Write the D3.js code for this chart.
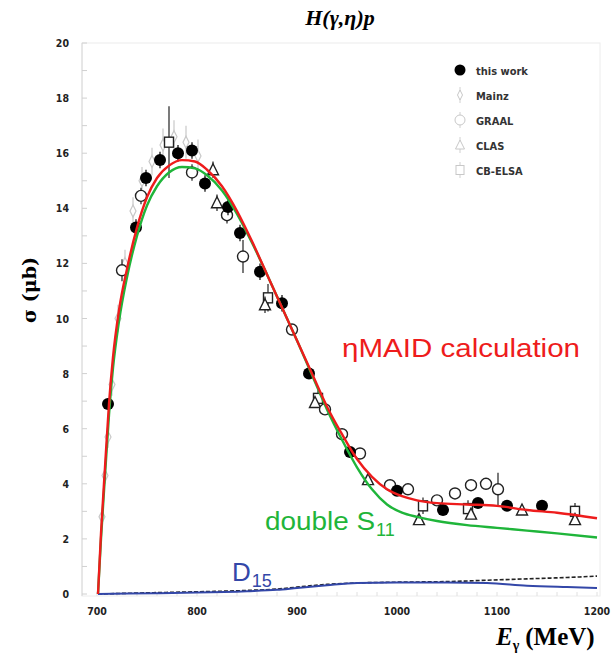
<!DOCTYPE html>
<html>
<head>
<meta charset="utf-8">
<script src="https://cdn.jsdelivr.net/npm/d3@7"></script>
<style>
  body { margin: 0; background: #fff; }
  svg { display: block; }
</style>
</head>
<body>
<svg id="chart" width="613" height="667"></svg>
<script>
// ---- data ----
var yTicks = [0, 2, 4, 6, 8, 10, 12, 14, 16, 18, 20];
var xTicks = [700, 800, 900, 1000, 1100, 1200];

// this work (filled circles)
var workE   = [711, 739, 749, 763, 781, 795, 808, 831, 843, 863, 885, 912, 953, 1000, 1046, 1081, 1110, 1145];
var workSig = [6.9, 13.3, 15.1, 15.75, 16.0, 16.1, 14.9, 14.05, 13.1, 11.7, 10.55, 8.0, 5.15, 3.75, 3.05, 3.3, 3.2, 3.2];
var workErr = [0.2, 0.3, 0.3, 0.3, 0.3, 0.3, 0.3, 0.3, 0.3, 0.3, 0.3, 0.2, 0.2, 0.15, 0.15, 0.15, 0.15, 0.15];

// Mainz (light diamonds)
var mainzE   = [705, 708, 711, 715, 721, 728, 736, 745, 755, 766, 777, 789, 801];
var mainzSig = [2.8, 4.3, 5.7, 7.6, 10.0, 12.0, 13.9, 15.0, 15.7, 16.3, 16.6, 16.4, 15.9];
var mainzErr = [0.3, 0.3, 0.4, 0.4, 0.5, 0.5, 0.5, 0.5, 0.5, 0.6, 0.6, 0.6, 0.6];

// GRAAL (open circles)
var graalE   = [725, 744, 795, 830, 846, 895, 928, 945, 963, 993, 1011, 1040, 1058, 1074, 1089, 1101];
var graalSig = [11.75, 14.45, 15.3, 13.75, 12.25, 9.6, 6.7, 5.8, 5.1, 3.95, 3.8, 3.4, 3.65, 3.95, 4.0, 3.8];
var graalErr = [0.4, 0.3, 0.3, 0.3, 0.6, 0.2, 0.2, 0.2, 0.2, 0.15, 0.15, 0.15, 0.15, 0.2, 0.2, 0.6];

// CLAS (open triangles)
var clasE   = [816, 820, 868, 918, 971, 1022, 1074, 1125, 1178];
var clasSig = [15.4, 14.2, 10.5, 6.95, 4.15, 2.7, 2.9, 3.05, 2.7];
var clasErr = [0.3, 0.3, 0.3, 0.2, 0.15, 0.15, 0.15, 0.15, 0.15];

// CB-ELSA (open squares)
var elsaE   = [772, 871, 921, 1026, 1071, 1178];
var elsaSig = [16.4, 10.75, 7.1, 3.2, 3.1, 3.0];
var elsaErr = [1.3, 0.5, 0.3, 0.3, 0.3, 0.3];

// model curves
var maidE   = [701, 704, 708, 712, 716, 722, 730, 740, 750, 760, 772, 785, 798, 810, 825, 840, 855, 870, 885, 900, 915, 930, 945, 960, 975, 990, 1005, 1020, 1040, 1070, 1100, 1130, 1160, 1200];
var maidSig = [0, 2.2, 4.6, 6.9, 8.6, 10.3, 11.8, 13.3, 14.4, 15.1, 15.55, 15.75, 15.7, 15.4, 14.8, 13.9, 12.8, 11.6, 10.4, 9.2, 8.0, 6.8, 5.8, 4.9, 4.25, 3.8, 3.55, 3.4, 3.3, 3.25, 3.2, 3.05, 2.95, 2.75];

var s11E   = maidE;
var s11Sig = [0, 2.0, 4.3, 6.5, 8.2, 9.9, 11.5, 13.0, 14.1, 14.8, 15.3, 15.5, 15.45, 15.2, 14.65, 13.8, 12.75, 11.6, 10.4, 9.2, 7.95, 6.7, 5.6, 4.6, 3.8, 3.25, 2.95, 2.8, 2.65, 2.5, 2.4, 2.3, 2.2, 2.05];

var d15E   = [701, 760, 800, 850, 880, 900, 930, 960, 1000, 1050, 1090, 1130, 1170, 1200];
var d15Sig = [0, 0.03, 0.05, 0.1, 0.15, 0.22, 0.32, 0.4, 0.42, 0.42, 0.4, 0.3, 0.25, 0.22];
var dashSig = [0, 0.05, 0.08, 0.13, 0.18, 0.25, 0.35, 0.4, 0.43, 0.45, 0.5, 0.55, 0.6, 0.65];

var legendNames = ["this work", "Mainz", "GRAAL", "CLAS", "CB-ELSA"];

// ---- setup ----
var svg = d3.select("#chart");
var x = d3.scaleLinear().domain([700, 1200]).range([97, 597]);
var y = d3.scaleLinear().domain([0, 20]).range([594, 43]);

function zip(es, ss, errs) {
  return es.map(function(e, i) { return {e: e, s: ss[i], err: errs ? errs[i] : 0}; });
}

// frame
svg.append("rect")
  .attr("x", 82).attr("y", 43).attr("width", 518).attr("height", 553)
  .attr("fill", "none").attr("stroke", "#ececec").attr("stroke-width", 1);
svg.append("line")
  .attr("x1", 82).attr("x2", 82).attr("y1", 43).attr("y2", 596)
  .attr("stroke", "#d8d8d8");

// minor ticks
svg.append("g").selectAll("line").data(d3.range(0, 21, 1)).join("line")
  .attr("x1", 82).attr("x2", 87)
  .attr("y1", function(d) { return y(d); }).attr("y2", function(d) { return y(d); })
  .attr("stroke", "#d0d0d0");
svg.append("g").selectAll("line").data(d3.range(700, 1201, 20)).join("line")
  .attr("x1", function(d) { return x(d); }).attr("x2", function(d) { return x(d); })
  .attr("y1", 596).attr("y2", 592)
  .attr("stroke", "#e0e0e0");

// tick labels
svg.append("g").selectAll("text").data(yTicks).join("text")
  .attr("x", 69).attr("y", function(d) { return y(d) + 4; })
  .attr("text-anchor", "end")
  .attr("font-family", "DejaVu Sans Condensed, DejaVu Sans")
  .attr("font-weight", "bold").attr("font-size", 10.5).attr("fill", "#222")
  .text(function(d) { return d; });
svg.append("g").selectAll("text").data(xTicks).join("text")
  .attr("x", function(d) { return x(d); }).attr("y", 615)
  .attr("text-anchor", "middle")
  .attr("font-family", "DejaVu Sans Condensed, DejaVu Sans")
  .attr("font-weight", "bold").attr("font-size", 10.5).attr("fill", "#222")
  .text(function(d) { return d; });

// titles
svg.append("text")
  .attr("x", 340).attr("y", 25).attr("text-anchor", "middle")
  .attr("font-family", "Liberation Serif").attr("font-weight", "bold")
  .attr("font-style", "italic").attr("font-size", 22)
  .text("H(γ,η)p");

svg.append("text")
  .attr("transform", "translate(36,290) rotate(-90)")
  .attr("text-anchor", "middle")
  .attr("font-family", "DejaVu Serif").attr("font-weight", "bold")
  .attr("font-size", 19)
  .text("σ (μb)");

var xt = svg.append("text").attr("x", 496).attr("y", 645)
  .attr("font-family", "Liberation Serif").attr("font-weight", "bold").attr("font-size", 25);
xt.append("tspan").attr("font-style", "italic").text("E");
xt.append("tspan").attr("font-size", 14).attr("dy", 5).text("γ");
xt.append("tspan").attr("dy", -5).attr("dx", 6).text("(MeV)");

// curves
var line = d3.line()
  .x(function(d) { return x(d.e); })
  .y(function(d) { return y(d.s); })
  .curve(d3.curveMonotoneX);

svg.append("path").datum(zip(d15E, dashSig))
  .attr("d", line).attr("fill", "none")
  .attr("stroke", "#222").attr("stroke-width", 1.6).attr("stroke-dasharray", "4,2");
svg.append("path").datum(zip(d15E, d15Sig))
  .attr("d", line).attr("fill", "none")
  .attr("stroke", "#3347a8").attr("stroke-width", 2);

// data points
var pts = svg.append("g");

function errBars(data, color) {
  pts.append("g").selectAll("line").data(data).join("line")
    .attr("x1", function(d) { return x(d.e); }).attr("x2", function(d) { return x(d.e); })
    .attr("y1", function(d) { return y(d.s - d.err); })
    .attr("y2", function(d) { return y(d.s + d.err); })
    .attr("stroke", color).attr("stroke-width", 1.2);
}

var mainz = zip(mainzE, mainzSig, mainzErr);
errBars(mainz, "#c8c8c8");
pts.append("g").selectAll("path").data(mainz).join("path")
  .attr("transform", function(d) { return "translate(" + x(d.e) + "," + y(d.s) + ")"; })
  .attr("d", "M0,-6L3,0L0,6L-3,0Z")
  .attr("fill", "#fff").attr("stroke", "#c8c8c8").attr("stroke-width", 1.2);

var elsa = zip(elsaE, elsaSig, elsaErr);
errBars(elsa, "#222");
pts.append("g").selectAll("rect").data(elsa).join("rect")
  .attr("x", function(d) { return x(d.e) - 4.5; }).attr("y", function(d) { return y(d.s) - 5; })
  .attr("width", 9).attr("height", 10)
  .attr("fill", "#fff").attr("stroke", "#222").attr("stroke-width", 1.4);

var clas = zip(clasE, clasSig, clasErr);
errBars(clas, "#222");
pts.append("g").selectAll("path").data(clas).join("path")
  .attr("transform", function(d) { return "translate(" + x(d.e) + "," + y(d.s) + ")"; })
  .attr("d", "M0,-6L5.5,5L-5.5,5Z")
  .attr("fill", "#fff").attr("stroke", "#222").attr("stroke-width", 1.4);

var graal = zip(graalE, graalSig, graalErr);
errBars(graal, "#222");
pts.append("g").selectAll("circle").data(graal).join("circle")
  .attr("cx", function(d) { return x(d.e); }).attr("cy", function(d) { return y(d.s); })
  .attr("r", 5.5)
  .attr("fill", "#fff").attr("stroke", "#222").attr("stroke-width", 1.4);

var work = zip(workE, workSig, workErr);
errBars(work, "#000");
pts.append("g").selectAll("circle").data(work).join("circle")
  .attr("cx", function(d) { return x(d.e); }).attr("cy", function(d) { return y(d.s); })
  .attr("r", 6)
  .attr("fill", "#000");

// model curves on top
svg.append("path").datum(zip(s11E, s11Sig))
  .attr("d", line).attr("fill", "none")
  .attr("stroke", "#1fb53a").attr("stroke-width", 2.4);
svg.append("path").datum(zip(maidE, maidSig))
  .attr("d", line).attr("fill", "none")
  .attr("stroke", "#ee1c1c").attr("stroke-width", 2.4);

// curve labels
svg.append("text").attr("x", 342).attr("y", 357)
  .attr("font-family", "Liberation Sans").attr("font-size", 26).attr("fill", "#ee1c1c")
  .attr("textLength", 238).attr("lengthAdjust", "spacingAndGlyphs")
  .text("ηMAID calculation");

var s11 = svg.append("text").attr("x", 265).attr("y", 530)
  .attr("font-family", "Liberation Sans").attr("font-size", 26).attr("fill", "#1fb53a");
s11.append("tspan").attr("textLength", 110).attr("lengthAdjust", "spacingAndGlyphs").text("double S");
s11.append("tspan").attr("font-size", 18).attr("dy", 6).attr("dx", 1).text("11");

var d15 = svg.append("text").attr("x", 232).attr("y", 581)
  .attr("font-family", "Liberation Sans").attr("font-size", 26).attr("fill", "#3347a8");
d15.append("tspan").text("D");
d15.append("tspan").attr("font-size", 18).attr("dy", 6).attr("dx", 1).text("15");

// legend
var lg = svg.append("g").attr("transform", "translate(460,70)");
var rows = lg.selectAll("g").data(legendNames).join("g")
  .attr("transform", function(d, i) { return "translate(0," + (i * 25) + ")"; });
rows.append("text").attr("x", 16).attr("y", 4.5)
  .attr("font-family", "DejaVu Sans Condensed, DejaVu Sans")
  .attr("font-weight", "bold")
  .attr("font-size", 11).attr("fill", "#333")
  .text(function(d) { return d; });
rows.each(function(d, i) {
  var g = d3.select(this);
  if (i === 0) {
    g.append("circle").attr("r", 5.5).attr("fill", "#000");
  } else {
    g.append("line").attr("y1", -8).attr("y2", 8).attr("stroke", "#d0d0d0");
    if (i === 1) g.append("path").attr("d", "M0,-5L2.5,0L0,5L-2.5,0Z").attr("fill", "#fff").attr("stroke", "#c8c8c8");
    if (i === 2) g.append("circle").attr("r", 5).attr("fill", "#fff").attr("stroke", "#c8c8c8");
    if (i === 3) g.append("path").attr("d", "M0,-5L4.5,4L-4.5,4Z").attr("fill", "#fff").attr("stroke", "#c8c8c8");
    if (i === 4) g.append("rect").attr("x", -4).attr("y", -4.5).attr("width", 8).attr("height", 9).attr("fill", "#fff").attr("stroke", "#c8c8c8");
  }
});
</script>
</body>
</html>
